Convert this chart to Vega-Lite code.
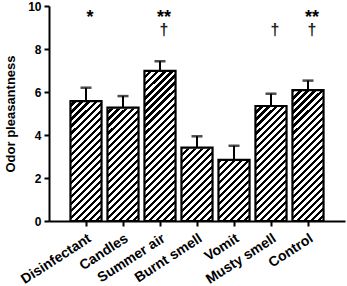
{
  "$schema": "https://vega.github.io/schema/vega-lite/v6.json",
  "width": 296,
  "height": 215,
  "autosize": {"type": "none"},
  "padding": {"left": 49, "top": 6, "right": 2, "bottom": 65},
  "background": "white",
  "config": {
    "view": {"stroke": null},
    "font": "Liberation Sans",
    "axis": {
      "domainColor": "black", "domainWidth": 2, "tickColor": "black", "tickWidth": 2, "tickSize": 5, "zindex": 1,
      "labelFont": "Liberation Sans", "labelFontWeight": "bold", "labelColor": "black",
      "titleFont": "Liberation Sans", "titleFontWeight": "bold", "titleColor": "black", "grid": false
    }
  },
  "data": {
    "values": [
      {"odor": "Disinfectant", "mean": 5.58, "upper": 6.2, "star": "*", "dagger": null},
      {"odor": "Candles", "mean": 5.27, "upper": 5.81, "star": null, "dagger": null},
      {"odor": "Summer air", "mean": 6.98, "upper": 7.43, "star": "**", "dagger": "†"},
      {"odor": "Burnt smell", "mean": 3.41, "upper": 3.94, "star": null, "dagger": null},
      {"odor": "Vomit", "mean": 2.84, "upper": 3.5, "star": null, "dagger": null},
      {"odor": "Musty smell", "mean": 5.35, "upper": 5.92, "star": null, "dagger": "†"},
      {"odor": "Control", "mean": 6.09, "upper": 6.53, "star": "**", "dagger": "†"}
    ]
  },
  "layer": [
    {
      "mark": {
        "type": "bar",
        "fill": {
          "gradient": "linear", "x1": 0, "y1": 0, "x2": 0.1616, "y2": 1.121,
          "stops": [
            {"offset": 0, "color": "#000"}, {"offset": 0.012857, "color": "#000"}, {"offset": 0.012857, "color": "#fff"}, {"offset": 0.028571, "color": "#fff"},
            {"offset": 0.028571, "color": "#000"}, {"offset": 0.041429, "color": "#000"}, {"offset": 0.041429, "color": "#fff"}, {"offset": 0.057143, "color": "#fff"},
            {"offset": 0.057143, "color": "#000"}, {"offset": 0.07, "color": "#000"}, {"offset": 0.07, "color": "#fff"}, {"offset": 0.085714, "color": "#fff"},
            {"offset": 0.085714, "color": "#000"}, {"offset": 0.098571, "color": "#000"}, {"offset": 0.098571, "color": "#fff"}, {"offset": 0.114286, "color": "#fff"},
            {"offset": 0.114286, "color": "#000"}, {"offset": 0.127143, "color": "#000"}, {"offset": 0.127143, "color": "#fff"}, {"offset": 0.142857, "color": "#fff"},
            {"offset": 0.142857, "color": "#000"}, {"offset": 0.155714, "color": "#000"}, {"offset": 0.155714, "color": "#fff"}, {"offset": 0.171429, "color": "#fff"},
            {"offset": 0.171429, "color": "#000"}, {"offset": 0.184286, "color": "#000"}, {"offset": 0.184286, "color": "#fff"}, {"offset": 0.2, "color": "#fff"},
            {"offset": 0.2, "color": "#000"}, {"offset": 0.212857, "color": "#000"}, {"offset": 0.212857, "color": "#fff"}, {"offset": 0.228571, "color": "#fff"},
            {"offset": 0.228571, "color": "#000"}, {"offset": 0.241429, "color": "#000"}, {"offset": 0.241429, "color": "#fff"}, {"offset": 0.257143, "color": "#fff"},
            {"offset": 0.257143, "color": "#000"}, {"offset": 0.27, "color": "#000"}, {"offset": 0.27, "color": "#fff"}, {"offset": 0.285714, "color": "#fff"},
            {"offset": 0.285714, "color": "#000"}, {"offset": 0.298571, "color": "#000"}, {"offset": 0.298571, "color": "#fff"}, {"offset": 0.314286, "color": "#fff"},
            {"offset": 0.314286, "color": "#000"}, {"offset": 0.327143, "color": "#000"}, {"offset": 0.327143, "color": "#fff"}, {"offset": 0.342857, "color": "#fff"},
            {"offset": 0.342857, "color": "#000"}, {"offset": 0.355714, "color": "#000"}, {"offset": 0.355714, "color": "#fff"}, {"offset": 0.371429, "color": "#fff"},
            {"offset": 0.371429, "color": "#000"}, {"offset": 0.384286, "color": "#000"}, {"offset": 0.384286, "color": "#fff"}, {"offset": 0.4, "color": "#fff"},
            {"offset": 0.4, "color": "#000"}, {"offset": 0.412857, "color": "#000"}, {"offset": 0.412857, "color": "#fff"}, {"offset": 0.428571, "color": "#fff"},
            {"offset": 0.428571, "color": "#000"}, {"offset": 0.441429, "color": "#000"}, {"offset": 0.441429, "color": "#fff"}, {"offset": 0.457143, "color": "#fff"},
            {"offset": 0.457143, "color": "#000"}, {"offset": 0.47, "color": "#000"}, {"offset": 0.47, "color": "#fff"}, {"offset": 0.485714, "color": "#fff"},
            {"offset": 0.485714, "color": "#000"}, {"offset": 0.498571, "color": "#000"}, {"offset": 0.498571, "color": "#fff"}, {"offset": 0.514286, "color": "#fff"},
            {"offset": 0.514286, "color": "#000"}, {"offset": 0.527143, "color": "#000"}, {"offset": 0.527143, "color": "#fff"}, {"offset": 0.542857, "color": "#fff"},
            {"offset": 0.542857, "color": "#000"}, {"offset": 0.555714, "color": "#000"}, {"offset": 0.555714, "color": "#fff"}, {"offset": 0.571429, "color": "#fff"},
            {"offset": 0.571429, "color": "#000"}, {"offset": 0.584286, "color": "#000"}, {"offset": 0.584286, "color": "#fff"}, {"offset": 0.6, "color": "#fff"},
            {"offset": 0.6, "color": "#000"}, {"offset": 0.612857, "color": "#000"}, {"offset": 0.612857, "color": "#fff"}, {"offset": 0.628571, "color": "#fff"},
            {"offset": 0.628571, "color": "#000"}, {"offset": 0.641429, "color": "#000"}, {"offset": 0.641429, "color": "#fff"}, {"offset": 0.657143, "color": "#fff"},
            {"offset": 0.657143, "color": "#000"}, {"offset": 0.67, "color": "#000"}, {"offset": 0.67, "color": "#fff"}, {"offset": 0.685714, "color": "#fff"},
            {"offset": 0.685714, "color": "#000"}, {"offset": 0.698571, "color": "#000"}, {"offset": 0.698571, "color": "#fff"}, {"offset": 0.714286, "color": "#fff"},
            {"offset": 0.714286, "color": "#000"}, {"offset": 0.727143, "color": "#000"}, {"offset": 0.727143, "color": "#fff"}, {"offset": 0.742857, "color": "#fff"},
            {"offset": 0.742857, "color": "#000"}, {"offset": 0.755714, "color": "#000"}, {"offset": 0.755714, "color": "#fff"}, {"offset": 0.771429, "color": "#fff"},
            {"offset": 0.771429, "color": "#000"}, {"offset": 0.784286, "color": "#000"}, {"offset": 0.784286, "color": "#fff"}, {"offset": 0.8, "color": "#fff"},
            {"offset": 0.8, "color": "#000"}, {"offset": 0.812857, "color": "#000"}, {"offset": 0.812857, "color": "#fff"}, {"offset": 0.828571, "color": "#fff"},
            {"offset": 0.828571, "color": "#000"}, {"offset": 0.841429, "color": "#000"}, {"offset": 0.841429, "color": "#fff"}, {"offset": 0.857143, "color": "#fff"},
            {"offset": 0.857143, "color": "#000"}, {"offset": 0.87, "color": "#000"}, {"offset": 0.87, "color": "#fff"}, {"offset": 0.885714, "color": "#fff"},
            {"offset": 0.885714, "color": "#000"}, {"offset": 0.898571, "color": "#000"}, {"offset": 0.898571, "color": "#fff"}, {"offset": 0.914286, "color": "#fff"},
            {"offset": 0.914286, "color": "#000"}, {"offset": 0.927143, "color": "#000"}, {"offset": 0.927143, "color": "#fff"}, {"offset": 0.942857, "color": "#fff"},
            {"offset": 0.942857, "color": "#000"}, {"offset": 0.955714, "color": "#000"}, {"offset": 0.955714, "color": "#fff"}, {"offset": 0.971429, "color": "#fff"},
            {"offset": 0.971429, "color": "#000"}, {"offset": 0.984286, "color": "#000"}, {"offset": 0.984286, "color": "#fff"}, {"offset": 1, "color": "#fff"}
          ]
        }
      },
      "encoding": {
        "x": {
          "field": "odor", "type": "nominal", "sort": null,
          "scale": {"paddingInner": 0.16, "paddingOuter": 0.58},
          "axis": {"title": null, "labelAngle": -33, "labelAlign": "right", "labelBaseline": "top", "labelFontSize": 14, "labelPadding": 5}
        },
        "y": {"datum": 10, "type": "quantitative", "scale": {"domain": [0, 10]},
          "axis": {"title": "Odor pleasantness", "titleFontSize": 13, "titlePadding": 10, "labelFontSize": 12, "values": [0, 2, 4, 6, 8, 10], "labelPadding": 3}},
        "y2": {"datum": 0}
      }
    },
    {
      "mark": {"type": "bar", "fill": "white", "stroke": "white", "strokeWidth": 1.5},
      "encoding": {"x": {"field": "odor", "type": "nominal", "sort": null}, "y": {"field": "mean", "type": "quantitative"}, "y2": {"datum": 10}}
    },
    {
      "mark": {"type": "bar", "fillOpacity": 0, "stroke": "black", "strokeWidth": 2.2},
      "encoding": {"x": {"field": "odor", "type": "nominal", "sort": null}, "y": {"field": "mean", "type": "quantitative"}}
    },
    {
      "mark": {"type": "rule", "color": "black", "strokeWidth": 2},
      "encoding": {"x": {"field": "odor", "type": "nominal", "sort": null}, "y": {"field": "mean", "type": "quantitative"}, "y2": {"field": "upper"}}
    },
    {
      "mark": {"type": "tick", "color": "black", "thickness": 2.5, "size": 11},
      "encoding": {"x": {"field": "odor", "type": "nominal", "sort": null}, "y": {"field": "upper", "type": "quantitative"}}
    },
    {
      "transform": [{"filter": "datum.star != null"}],
      "mark": {"type": "text", "font": "Liberation Sans", "fontWeight": "bold", "fontSize": 18, "baseline": "top", "dx": 4, "color": "black"},
      "encoding": {"x": {"field": "odor", "type": "nominal", "sort": null}, "y": {"datum": 9.86}, "text": {"field": "star"}}
    },
    {
      "transform": [{"filter": "datum.dagger != null"}],
      "mark": {"type": "text", "font": "Liberation Sans", "fontWeight": "bold", "fontSize": 16, "color": "#222", "baseline": "middle", "dx": 4},
      "encoding": {"x": {"field": "odor", "type": "nominal", "sort": null}, "y": {"datum": 8.9}, "text": {"field": "dagger"}}
    }
  ]
}
